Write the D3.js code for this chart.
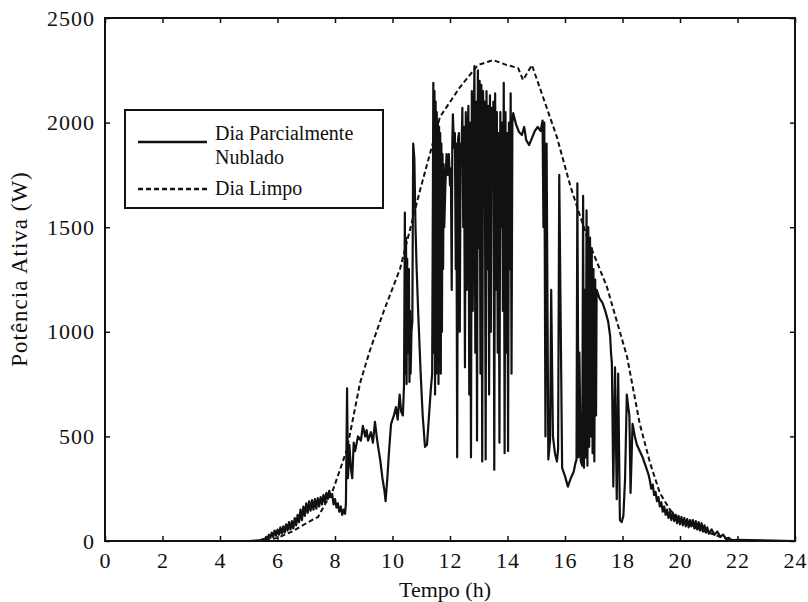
<!DOCTYPE html>
<html><head><meta charset="utf-8">
<script src="https://cdn.jsdelivr.net/npm/d3@7"></script>
<style>
body{margin:0;background:#fff;}
svg text{font-family:"Liberation Serif","Times New Roman",serif !important;fill:#111;}
</style></head>
<body><svg id="c" width="808" height="602"></svg>
<script>
// ---- data ----
const xTicks = [0,2,4,6,8,10,12,14,16,18,20,22,24];
const yTicks = [0,500,1000,1500,2000,2500];
const seriesNames = ["Dia Parcialmente Nublado","Dia Limpo"];

const clearT = [0,5.3,5.6,6.0,6.5,7.0,7.41,7.93,8.41,8.87,9.22,9.7,10.26,10.96,11.65,12.35,12.97,13.5,13.98,14.37,14.54,14.85,15.24,15.72,16.2,16.8,17.46,18.16,18.6,18.96,19.3,19.65,20.0,20.5,21.0,21.5,22.0,24];
const clearV = [0,0,5,15,45,85,115,244,435,755,913,1100,1300,1678,2027,2170,2275,2299,2275,2261,2204,2275,2120,1930,1690,1439,1214,880,560,373,229,150,100,65,40,15,0,0];

const cloudT = [0,5.0,5.4,5.5,5.55,5.6,5.65,5.7,5.75,5.8,5.85,5.9,5.95,6.0,6.05,6.1,6.15,6.2,6.25,6.3,6.35,6.4,6.45,6.5,6.55,6.6,6.65,6.7,6.75,6.8,6.85,6.9,6.95,7.0,7.05,7.1,7.15,7.2,7.25,7.3,7.35,7.4,7.45,7.5,7.55,7.6,7.65,7.7,7.75,7.8,7.85,7.9,7.95,8.0,8.05,8.1,8.15,8.2,8.25,8.3,8.35,8.38,8.42,8.45,8.5,8.55,8.6,8.65,8.7,8.8,8.9,8.97,9.05,9.1,9.15,9.25,9.32,9.39,9.45,9.5,9.58,9.65,9.72,9.76,9.82,9.88,9.95,10.05,10.12,10.18,10.25,10.3,10.36,10.4,10.43,10.45,10.47,10.49,10.51,10.53,10.55,10.57,10.59,10.61,10.63,10.66,10.69,10.72,10.76,10.8,10.84,10.9,10.98,11.05,11.13,11.2,11.27,11.33,11.38,11.42,11.44,11.46,11.48,11.5,11.52,11.54,11.56,11.58,11.6,11.62,11.64,11.66,11.68,11.7,11.72,11.74,11.76,11.78,11.8,11.84,11.88,11.92,11.96,12.0,12.03,12.06,12.08,12.1,12.14,12.17,12.2,12.22,12.25,12.28,12.31,12.34,12.37,12.4,12.43,12.46,12.49,12.52,12.55,12.58,12.61,12.64,12.67,12.7,12.73,12.76,12.79,12.82,12.85,12.88,12.91,12.94,12.97,13.0,13.03,13.06,13.09,13.12,13.15,13.18,13.21,13.24,13.27,13.3,13.33,13.36,13.39,13.42,13.45,13.48,13.51,13.54,13.57,13.6,13.63,13.66,13.69,13.72,13.75,13.78,13.81,13.84,13.87,13.9,13.93,13.96,13.99,14.02,14.05,14.08,14.11,14.14,14.17,14.2,14.3,14.4,14.5,14.58,14.65,14.75,14.85,14.95,15.05,15.15,15.22,15.25,15.28,15.32,15.36,15.42,15.48,15.52,15.58,15.65,15.72,15.76,15.8,15.9,16.0,16.1,16.2,16.3,16.36,16.4,16.43,16.47,16.5,16.55,16.6,16.63,16.66,16.69,16.72,16.75,16.78,16.81,16.84,16.87,16.9,16.93,16.96,16.99,17.02,17.05,17.08,17.1,17.2,17.3,17.4,17.5,17.57,17.6,17.63,17.68,17.74,17.8,17.85,17.91,17.97,18.03,18.09,18.15,18.2,18.24,18.28,18.35,18.43,18.5,18.6,18.7,18.8,18.9,18.95,19.0,19.05,19.1,19.15,19.2,19.25,19.3,19.35,19.4,19.45,19.5,19.55,19.6,19.65,19.7,19.75,19.8,19.85,19.9,19.95,20.0,20.05,20.1,20.15,20.2,20.25,20.3,20.35,20.4,20.45,20.5,20.55,20.6,20.65,20.7,20.75,20.8,20.85,20.9,20.95,21.0,21.1,21.2,21.3,21.4,21.5,21.6,21.7,21.8,22.0,24];
const cloudV = [0,0,3,10,2,20,8,30,15,40,20,50,25,55,30,65,35,70,40,80,50,90,55,95,60,110,75,125,90,150,100,165,120,180,135,190,145,195,150,200,155,205,165,210,175,220,185,230,200,240,210,225,175,200,160,180,140,165,125,150,130,180,730,300,460,350,300,470,430,500,480,550,500,530,480,520,470,570,500,450,380,300,240,190,300,430,560,600,640,580,700,620,600,740,1570,800,1450,750,1350,900,1200,1300,760,1100,800,1000,1050,1900,1830,1500,1300,1070,800,600,450,460,600,720,800,2190,900,2150,700,2100,800,2050,1100,2000,750,1980,900,1950,800,1900,1000,1850,1300,1800,1500,1700,1850,1750,1850,1700,1780,1200,1900,2040,1880,1950,1300,1900,400,1920,1950,1000,1900,1850,2070,1500,1980,830,2050,1200,1950,2080,700,2000,400,2150,1100,1900,2270,900,2100,480,2250,1400,2200,800,2180,380,2150,1600,2100,390,2150,1300,2080,700,2130,1000,2070,1800,2100,340,2140,1200,2050,900,1950,470,2050,1500,2000,1100,2190,420,2050,900,1950,430,2000,1300,2140,800,2000,2045,1990,1955,1941,1979,1917,1893,1926,1960,1979,1960,2010,1500,2000,500,1900,390,480,1200,500,420,380,440,1750,350,310,260,300,330,370,390,1710,400,900,380,360,1650,350,1200,400,1580,360,1500,450,1450,500,1400,420,1300,380,1250,600,1200,1160,1140,1100,1050,980,900,850,260,830,200,800,100,90,120,300,700,640,600,230,560,500,460,430,400,360,320,290,250,270,220,235,190,210,165,185,140,165,125,150,110,140,100,135,95,125,85,120,80,115,75,110,70,105,65,100,70,100,60,95,55,90,50,85,45,75,40,65,35,55,30,45,20,30,10,15,3,5,0,0];

// ---- chart ----
const svg = d3.select("#c");
const L=105, R=795, T=18, B=541;
const x = d3.scaleLinear().domain([0,24]).range([L,R]);
const y = d3.scaleLinear().domain([0,2500]).range([B,T]);

const line = d3.line().x(d=>x(d[0])).y(d=>y(d[1]));
svg.append("path").datum(clearT.map((t,i)=>[t,clearV[i]]))
  .attr("d",line).attr("fill","none").attr("stroke","#111")
  .attr("stroke-width",2).attr("stroke-dasharray","5,3");
svg.append("path").datum(cloudT.map((t,i)=>[t,cloudV[i]]))
  .attr("d",line).attr("fill","none").attr("stroke","#111")
  .attr("stroke-width",2.2).attr("stroke-linejoin","round");

// axes
const fs = 22;
const ax = svg.append("g").attr("transform",`translate(0,${B})`)
  .call(d3.axisBottom(x).tickValues(xTicks).tickSize(-5).tickPadding(11).tickFormat(d3.format("d")));
const axT = svg.append("g").attr("transform",`translate(0,${T})`)
  .call(d3.axisTop(x).tickValues(xTicks).tickSize(-5).tickFormat(""));
const ay = svg.append("g").attr("transform",`translate(${L},0)`)
  .call(d3.axisLeft(y).tickValues(yTicks).tickSize(-5).tickPadding(10).tickFormat(d3.format("d")));
const ayR = svg.append("g").attr("transform",`translate(${R},0)`)
  .call(d3.axisRight(y).tickValues(yTicks).tickSize(-5).tickFormat(""));
[ax,axT,ay,ayR].forEach(g=>{
  g.attr("font-family",null);
  g.select(".domain").remove();
  g.selectAll(".tick line").attr("stroke","#111").attr("stroke-width",1.5);
  g.selectAll(".tick text").attr("font-size",fs).style("font-family","'Liberation Serif', serif").attr("fill","#111").attr("letter-spacing","1");
});
svg.append("rect").attr("x",L).attr("y",T).attr("width",R-L).attr("height",B-T)
  .attr("fill","none").attr("stroke","#111").attr("stroke-width",2);

svg.append("text").attr("x",(L+R)/2-5).attr("y",597).attr("text-anchor","middle")
  .attr("font-size",22).text("Tempo (h)");
svg.append("text").attr("transform","translate(27,269) rotate(-90)").attr("text-anchor","middle")
  .attr("font-size",23).attr("letter-spacing","1").text("Potência Ativa (W)");

// legend
const lg = svg.append("g");
lg.append("rect").attr("x",125).attr("y",110).attr("width",258).attr("height",98)
  .attr("fill","#fff").attr("stroke","#111").attr("stroke-width",2);
lg.append("line").attr("x1",138).attr("x2",207).attr("y1",142).attr("y2",142)
  .attr("stroke","#111").attr("stroke-width",2.5);
lg.append("line").attr("x1",138).attr("x2",207).attr("y1",189).attr("y2",189)
  .attr("stroke","#111").attr("stroke-width",2.5).attr("stroke-dasharray","5,3");
lg.append("text").attr("x",215).attr("y",140).attr("font-size",20).text("Dia Parcialmente");
lg.append("text").attr("x",215).attr("y",164).attr("font-size",20).text("Nublado");
lg.append("text").attr("x",215).attr("y",195).attr("font-size",20).text(seriesNames[1]);
</script></body></html>
